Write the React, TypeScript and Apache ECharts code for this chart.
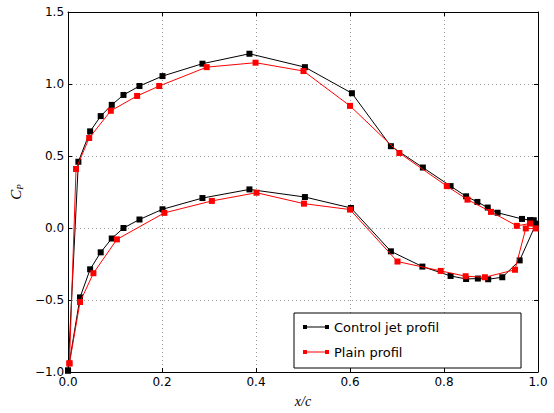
import React, { useEffect, useRef } from "react";
import * as echarts from "echarts";

const jetX = [0, 0.022, 0.047, 0.0695, 0.093, 0.118, 0.152, 0.201, 0.286, 0.386, 0.504, 0.604, 0.687, 0.755, 0.814, 0.847, 0.871, 0.893, 0.914, 0.966, 0.983, 0.991, 0.996,
  0.961, 0.924, 0.894, 0.872, 0.847, 0.814, 0.754, 0.687, 0.602, 0.504, 0.386, 0.286, 0.201, 0.152, 0.118, 0.093, 0.0695, 0.047, 0.0255, 0];
const jetY = [-0.99, 0.46, 0.671, 0.777, 0.855, 0.924, 0.986, 1.055, 1.141, 1.21, 1.117, 0.936, 0.568, 0.42, 0.291, 0.22, 0.181, 0.142, 0.106, 0.063, 0.055, 0.054, 0.03,
  -0.225, -0.342, -0.356, -0.351, -0.354, -0.333, -0.268, -0.162, 0.139, 0.215, 0.268, 0.208, 0.13, 0.059, 0.0, -0.073, -0.169, -0.287, -0.482, -0.99];

const plainX = [0.003, 0.017, 0.045, 0.091, 0.147, 0.194, 0.295, 0.399, 0.501, 0.6, 0.705, 0.806, 0.85, 0.9, 0.955, 0.983, 0.995,
  0.974, 0.951, 0.887, 0.846, 0.793, 0.701, 0.6, 0.502, 0.401, 0.306, 0.205, 0.104, 0.054, 0.0255, 0.003];
const plainY = [-0.94, 0.41, 0.625, 0.814, 0.917, 0.986, 1.117, 1.148, 1.09, 0.848, 0.521, 0.291, 0.197, 0.112, 0.015, 0.031, -0.003,
  -0.003, -0.29, -0.342, -0.335, -0.298, -0.233, 0.128, 0.169, 0.245, 0.188, 0.105, -0.079, -0.314, -0.514, -0.94];

const seriesNames = ["Control jet profil", "Plain profil"];
const seriesColors = ["#000000", "#ff0000"];

const zip = (xs: number[], ys: number[]) => xs.map((x, i) => [x, ys[i]]);

const fmt = (v: number) => v.toFixed(1).replace("-", "\u2212");

export default function App() {
  const ref = useRef<HTMLDivElement>(null);
  useEffect(() => {
    const chart = echarts.init(ref.current!, null, { renderer: "svg" });
    const font = "DejaVu Sans";
    const gridLine = { show: true, lineStyle: { color: "#999", type: [1, 3], width: 1 } };
    const axisLine = { show: true, onZero: false, lineStyle: { color: "#000", width: 1 } };
    const tick = { show: true, inside: true, length: 4, lineStyle: { color: "#000" } };
    chart.setOption({
      animation: false,
      backgroundColor: "#fff",
      grid: { left: 68, right: 16, top: 12, bottom: 39 },
      legend: {
        orient: "vertical",
        left: 294,
        top: 313,
        data: seriesNames,
        backgroundColor: "#fff",
        borderColor: "#000",
        borderWidth: 1,
        padding: [6, 82, 8, 9],
        itemWidth: 26,
        itemHeight: 8,
        itemGap: 9,
        icon: "path://M0,2h4v4h-4z M4,3.6h18v0.8h-18z M22,2h4v4h-4z",
        textStyle: { fontFamily: font, fontSize: 13, color: "#000", lineHeight: 16 },
      },
      xAxis: [
        {
          type: "value",
          min: 0,
          max: 1,
          interval: 0.2,
          name: "x/c",
          nameLocation: "middle",
          nameGap: 22,
          nameTextStyle: { fontFamily: "Liberation Serif", fontStyle: "italic", fontSize: 14, color: "#000" },
          axisLine,
          axisTick: tick,
          splitLine: gridLine,
          axisLabel: { formatter: fmt, fontFamily: font, fontSize: 12, color: "#000", margin: 4 },
        },
        {
          type: "value",
          position: "top",
          min: 0,
          max: 1,
          interval: 0.2,
          axisLine,
          axisTick: tick,
          splitLine: { show: false },
          axisLabel: { show: false },
        },
      ],
      yAxis: [
        {
          type: "value",
          min: -1,
          max: 1.5,
          interval: 0.5,
          name: "{c|C}{p|P}",
          nameLocation: "middle",
          nameRotate: 90,
          nameGap: 32,
          nameTextStyle: {
            rich: {
              c: { fontFamily: "Liberation Serif", fontStyle: "italic", fontSize: 15, color: "#000" },
              p: { fontFamily: "Liberation Serif", fontStyle: "italic", fontSize: 9, color: "#000", padding: [8, 0, 0, 0] },
            },
          },
          axisLine,
          axisTick: tick,
          splitLine: gridLine,
          axisLabel: { formatter: fmt, fontFamily: font, fontSize: 12, color: "#000", margin: 4 },
        },
        {
          type: "value",
          position: "right",
          min: -1,
          max: 1.5,
          interval: 0.5,
          axisLine,
          axisTick: tick,
          splitLine: { show: false },
          axisLabel: { show: false },
        },
      ],
      series: [
        {
          name: seriesNames[0],
          type: "line",
          data: zip(jetX, jetY),
          symbol: "rect",
          symbolSize: 6,
          itemStyle: { color: seriesColors[0] },
          lineStyle: { color: seriesColors[0], width: 1 },
          z: 3,
        },
        {
          name: seriesNames[1],
          type: "line",
          data: zip(plainX, plainY),
          symbol: "rect",
          symbolSize: 6,
          itemStyle: { color: seriesColors[1] },
          lineStyle: { color: seriesColors[1], width: 1 },
          z: 4,
        },
      ],
    });
    return () => chart.dispose();
  }, []);
  return <div ref={ref} style={{ position: "fixed", left: 0, top: 0, width: 554, height: 413 }} />;
}
